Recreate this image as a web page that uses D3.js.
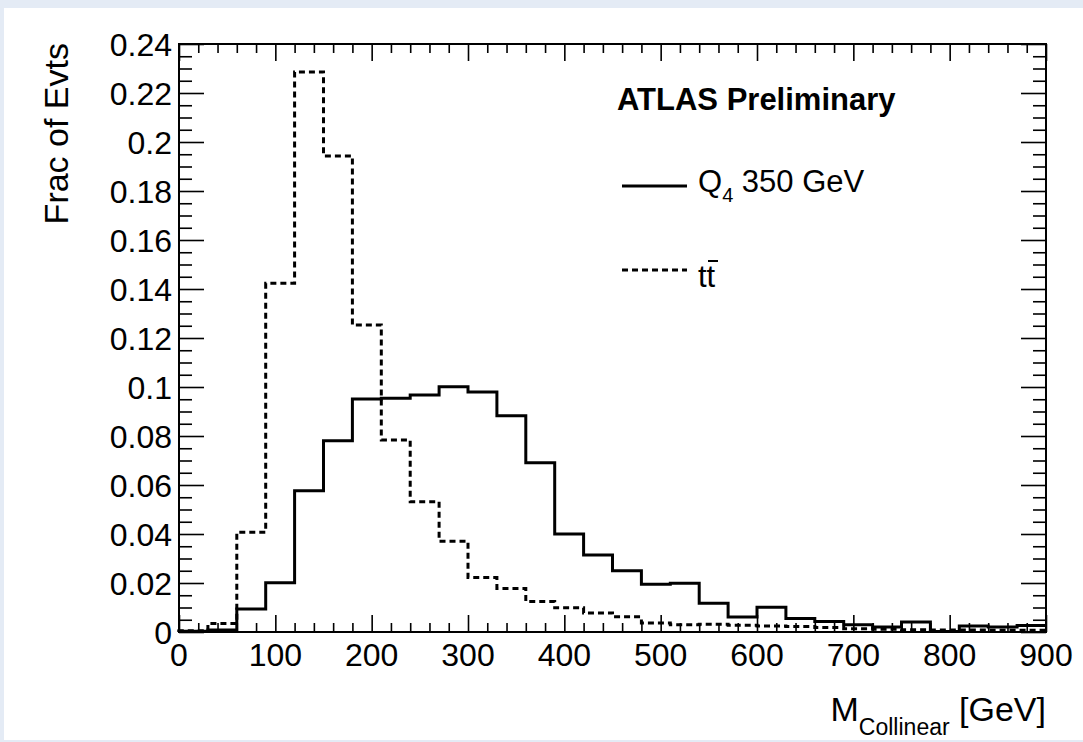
<!DOCTYPE html>
<html lang="en">
<head>
    <meta charset="UTF-8">
    <title>M Collinear - Q4 vs ttbar</title>
    <style>
        body {
            margin: 0;
            padding: 0;
            background-color: #e4ebf5; /* light blue surround */
            font-family: "Liberation Sans", Arial, sans-serif;
        }
        #chart {
            width: 1083px;
            height: 742px;
        }
    </style>
</head>
<body>
    <div id="chart"></div>

    <script src="https://d3js.org/d3.v7.min.js"></script>
    <script>
        // lower bin edges (30 GeV bins)
        var binLows = [0, 30, 60, 90, 120, 150, 180, 210, 240, 270,
                       300, 330, 360, 390, 420, 450, 480, 510, 540, 570,
                       600, 630, 660, 690, 720, 750, 780, 810, 840, 870];
        var binWidth = 30;

        // Q4 350 GeV (solid)
        var q4Values = [0.0003, 0.0008, 0.0094, 0.0201, 0.0577, 0.0781, 0.0951, 0.0954, 0.0967, 0.1001,
                        0.0980, 0.0883, 0.0691, 0.0400, 0.0314, 0.0250, 0.0195, 0.0199, 0.0117, 0.0061,
                        0.0101, 0.0055, 0.0043, 0.0030, 0.0020, 0.0041, 0.0002, 0.0024, 0.0020, 0.0027];

        // ttbar (dashed)
        var ttValues = [0.0005, 0.0035, 0.0407, 0.1423, 0.2286, 0.1943, 0.1253, 0.0784, 0.0532, 0.0370,
                        0.0222, 0.0178, 0.0124, 0.0099, 0.0078, 0.0062, 0.0037, 0.0030, 0.0032, 0.0028,
                        0.0025, 0.0022, 0.0018, 0.0013, 0.0011, 0.0009, 0.0008, 0.0008, 0.0007, 0.0007];

        var xMajorTicks = [0, 100, 200, 300, 400, 500, 600, 700, 800, 900];
        var yMajorTicks = [0, 0.02, 0.04, 0.06, 0.08, 0.1, 0.12, 0.14, 0.16, 0.18, 0.2, 0.22, 0.24];
        var yTickLabels = ["0", "0.02", "0.04", "0.06", "0.08", "0.1", "0.12", "0.14", "0.16", "0.18", "0.2", "0.22", "0.24"];

        var svgWidth = 1083, svgHeight = 742;
        var plot = { left: 179, right: 1046, top: 44, bottom: 632 };

        var svg = d3.select("#chart")
                    .append("svg")
                    .attr("width", svgWidth)
                    .attr("height", svgHeight);

        // white canvas
        svg.append("rect")
            .attr("x", 4).attr("y", 8)
            .attr("width", svgWidth - 4).attr("height", 732)
            .attr("fill", "white");

        var x = d3.scaleLinear().domain([0, 900]).range([plot.left, plot.right]);
        var y = d3.scaleLinear().domain([0, 0.24]).range([plot.bottom, plot.top]);

        var xMinor = d3.range(0, 901, 20).filter(v => v % 100 !== 0);
        var yMinor = d3.range(0, 241, 5).map(v => v / 1000).filter(v => Math.round(v * 1000) % 20 !== 0);

        // ticks pointing inward, on all four sides
        function drawTicks(axisFn, pos, values, size) {
            var g = svg.append("g")
                .attr("transform", pos)
                .call(axisFn.tickValues(values).tickSize(-size).tickFormat(""));
            g.select(".domain").remove();
            g.selectAll("line").attr("stroke", "black").attr("stroke-width", 1.6);
            return g;
        }
        drawTicks(d3.axisBottom(x), "translate(0," + plot.bottom + ")", xMajorTicks, 17);
        drawTicks(d3.axisBottom(x), "translate(0," + plot.bottom + ")", xMinor, 9);
        drawTicks(d3.axisTop(x), "translate(0," + plot.top + ")", xMajorTicks, 17);
        drawTicks(d3.axisTop(x), "translate(0," + plot.top + ")", xMinor, 9);
        drawTicks(d3.axisLeft(y), "translate(" + plot.left + ",0)", yMajorTicks, 25);
        drawTicks(d3.axisLeft(y), "translate(" + plot.left + ",0)", yMinor, 13);
        drawTicks(d3.axisRight(y), "translate(" + plot.right + ",0)", yMajorTicks, 25);
        drawTicks(d3.axisRight(y), "translate(" + plot.right + ",0)", yMinor, 13);

        // histogram outlines
        function stepPoints(values) {
            var pts = [[binLows[0], 0]];
            values.forEach(function(v, i) {
                pts.push([binLows[i], v]);
                pts.push([binLows[i] + binWidth, v]);
            });
            return pts;
        }
        var line = d3.line().x(d => x(d[0])).y(d => y(d[1]));

        svg.append("path")
            .attr("d", line(stepPoints(ttValues)))
            .attr("fill", "none")
            .attr("stroke", "black")
            .attr("stroke-width", 3)
            .attr("stroke-dasharray", "6,4");

        svg.append("path")
            .attr("d", line(stepPoints(q4Values)))
            .attr("fill", "none")
            .attr("stroke", "black")
            .attr("stroke-width", 3);

        // frame
        svg.append("rect")
            .attr("x", plot.left).attr("y", plot.top)
            .attr("width", plot.right - plot.left)
            .attr("height", plot.bottom - plot.top)
            .attr("fill", "none")
            .attr("stroke", "black")
            .attr("stroke-width", 2);

        // tick labels
        svg.selectAll(".xlab")
            .data(xMajorTicks)
            .enter().append("text")
            .attr("class", "xlab")
            .attr("x", d => x(d))
            .attr("y", 666)
            .attr("text-anchor", "middle")
            .attr("font-size", "32px")
            .text(d => d);

        svg.selectAll(".ylab")
            .data(yMajorTicks)
            .enter().append("text")
            .attr("class", "ylab")
            .attr("x", 172)
            .attr("y", d => y(d) + 12)
            .attr("text-anchor", "end")
            .attr("font-size", "32px")
            .text((d, i) => yTickLabels[i]);

        // axis titles
        svg.append("text")
            .attr("transform", "translate(68,43) rotate(-90)")
            .attr("text-anchor", "end")
            .attr("font-size", "34px")
            .text("Frac of Evts");

        var xt = svg.append("text")
            .attr("x", 1046)
            .attr("y", 721)
            .attr("text-anchor", "end")
            .attr("font-size", "34px");
        xt.append("tspan").text("M");
        xt.append("tspan").attr("font-size", "23px").attr("dy", 14).text("Collinear");
        xt.append("tspan").attr("dy", -14).text(" [GeV]");

        // legend
        svg.append("text")
            .attr("x", 617).attr("y", 110)
            .attr("font-size", "31px")
            .attr("font-weight", "bold")
            .text("ATLAS Preliminary");

        svg.append("line")
            .attr("x1", 622).attr("x2", 687)
            .attr("y1", 186).attr("y2", 186)
            .attr("stroke", "black").attr("stroke-width", 3);

        var q4Label = svg.append("text")
            .attr("x", 698).attr("y", 192)
            .attr("font-size", "31px");
        q4Label.append("tspan").text("Q");
        q4Label.append("tspan").attr("font-size", "20px").attr("dy", 10).text("4");
        q4Label.append("tspan").attr("dy", -10).text(" 350 GeV");

        svg.append("line")
            .attr("x1", 622).attr("x2", 687)
            .attr("y1", 270).attr("y2", 270)
            .attr("stroke", "black").attr("stroke-width", 3)
            .attr("stroke-dasharray", "6,4");

        svg.append("text")
            .attr("x", 698).attr("y", 287)
            .attr("font-size", "31px")
            .text("tt");
        // bar over the second t
        svg.append("line")
            .attr("x1", 708).attr("x2", 718)
            .attr("y1", 261).attr("y2", 261)
            .attr("stroke", "black").attr("stroke-width", 2);
    </script>
</body>
</html>
